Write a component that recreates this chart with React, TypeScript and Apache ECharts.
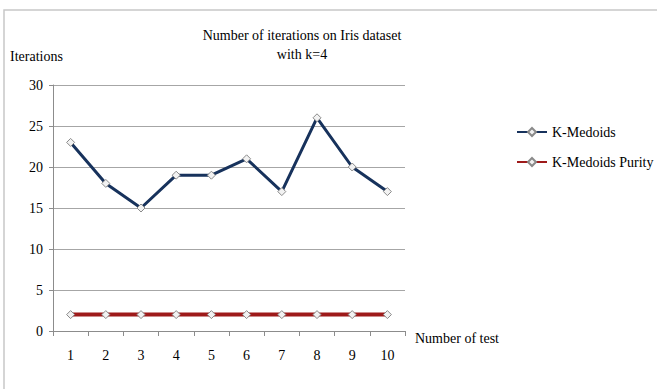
import React, { useEffect, useRef } from "react";
import * as echarts from "echarts";

const tests = ["1", "2", "3", "4", "5", "6", "7", "8", "9", "10"];
const kMedoids = [23, 18, 15, 19, 19, 21, 17, 26, 20, 17];
const kMedoidsPurity = [2, 2, 2, 2, 2, 2, 2, 2, 2, 2];

const FONT = "'Liberation Serif', 'Times New Roman', serif";
const SIZE = 14;

export default function App() {
  const ref = useRef<HTMLDivElement>(null);

  useEffect(() => {
    if (!ref.current) return;
    const chart = echarts.init(ref.current, undefined, { renderer: "svg" });
    const marker = {
      symbol: "diamond",
      symbolSize: 8,
      itemStyle: { color: "#f2f2f2", borderColor: "#8a8a8a", borderWidth: 1 },
    };
    const txt = { fontFamily: FONT, fontSize: SIZE, color: "#000" };
    chart.setOption({
      animation: false,
      backgroundColor: "#ffffff",
      textStyle: txt,
      graphic: [
        {
          type: "rect",
          shape: { x: 4, y: 10, width: 700, height: 400 },
          style: { fill: "none", stroke: "#c8c8c8", lineWidth: 1.5 },
          silent: true,
        },
        {
          type: "text",
          x: 302,
          y: 26,
          style: {
            text: "Number of iterations on Iris dataset\nwith k=4",
            fontFamily: FONT,
            fontSize: SIZE,
            fill: "#000",
            align: "center",
            lineHeight: 19,
          },
        },
        {
          type: "text",
          x: 10,
          y: 49,
          style: { text: "Iterations", fontFamily: FONT, fontSize: SIZE, fill: "#000" },
        },
      ],
      grid: { left: 53, right: 252, top: 85, bottom: 58 },
      legend: {
        orient: "vertical",
        left: 511,
        top: 120,
        itemGap: 16,
        itemWidth: 30,
        itemHeight: 10,
        textStyle: { ...txt },
        data: ["K-Medoids", "K-Medoids Purity"],
      },
      xAxis: {
        type: "category",
        data: tests,
        boundaryGap: true,
        name: "Number of test",
        nameLocation: "end",
        nameGap: 10,
        nameTextStyle: { ...txt, verticalAlign: "top", padding: [0, 0, 0, 0] },
        axisLine: { lineStyle: { color: "#8c8c8c" } },
        axisTick: { show: true, length: 5, lineStyle: { color: "#8c8c8c" } },
        axisLabel: { ...txt, margin: 17 },
      },
      yAxis: {
        type: "value",
        min: 0,
        max: 30,
        interval: 5,
        axisLine: { show: true, lineStyle: { color: "#8c8c8c" } },
        axisTick: { show: true, length: 4, lineStyle: { color: "#8c8c8c" } },
        axisLabel: { ...txt, margin: 10 },
        splitLine: { lineStyle: { color: "#a6a6a6" } },
      },
      series: [
        {
          name: "K-Medoids",
          type: "line",
          data: kMedoids,
          ...marker,
          lineStyle: { color: "#17325c", width: 3 },
          emphasis: { disabled: true },
        },
        {
          name: "K-Medoids Purity",
          type: "line",
          data: kMedoidsPurity,
          ...marker,
          lineStyle: { color: "#9e1a1a", width: 4 },
          emphasis: { disabled: true },
        },
      ],
    });
    return () => chart.dispose();
  }, []);

  return (
    <div
      ref={ref}
      style={{ position: "fixed", left: 0, top: 0, width: 657, height: 389 }}
    />
  );
}
